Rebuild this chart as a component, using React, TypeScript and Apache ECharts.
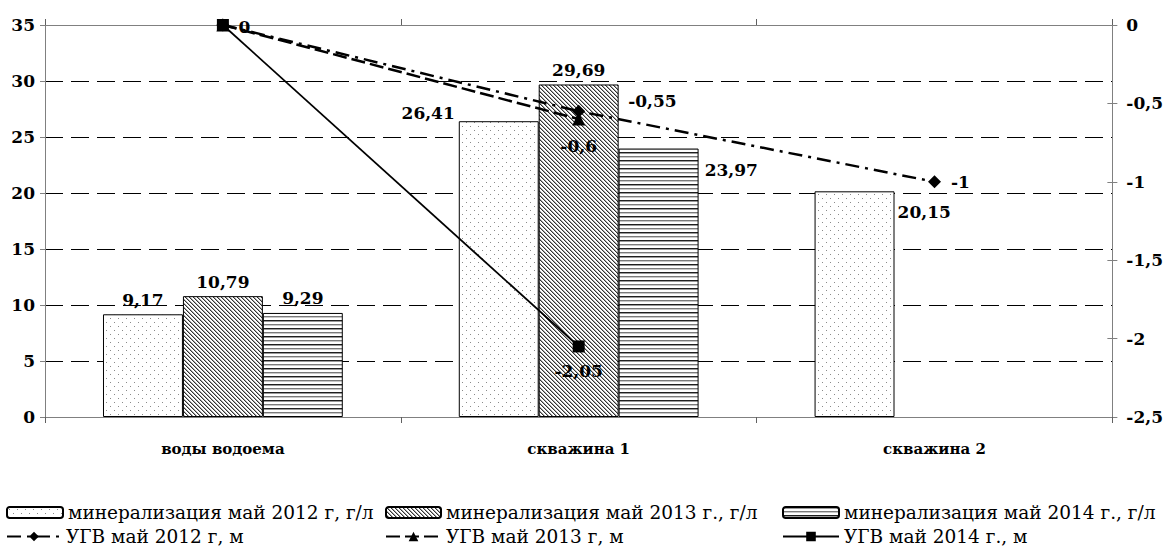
import React, { useEffect, useRef } from "react";
import * as echarts from "echarts";

const categories = ["воды водоема", "скважина 1", "скважина 2"];
const min2012 = [9.17, 26.41, 20.15];
const min2013 = [10.79, 29.69, null];
const min2014 = [9.29, 23.97, null];
const ugv2012 = [0, -0.55, -1];
const ugv2013 = [0, -0.6, null];
const ugv2014 = [0, -2.05, null];
const seriesNames = [
  "минерализация май 2012 г, г/л",
  "минерализация май 2013 г., г/л",
  "минерализация май 2014 г., г/л",
  "УГВ май 2012 г, м",
  "УГВ май 2013 г, м",
  "УГВ май 2014 г., м",
];

const FONT = "'DejaVu Serif', 'Liberation Serif', serif";

function makeTile(w: number, h: number, fn: (x: number, y: number) => string | null) {
  const c = document.createElement("canvas");
  c.width = w;
  c.height = h;
  const ctx = c.getContext("2d")!;
  ctx.fillStyle = "#ffffff";
  ctx.fillRect(0, 0, w, h);
  for (let y = 0; y < h; y++) {
    for (let x = 0; x < w; x++) {
      const col = fn(x, y);
      if (col) {
        ctx.fillStyle = col;
        ctx.fillRect(x, y, 1, 1);
      }
    }
  }
  return c;
}

const fmt = (v: number) => String(v).replace(".", ",");

export default function App() {
  const ref = useRef<HTMLDivElement>(null);
  useEffect(() => {
    if (!ref.current) return;
    const chart = echarts.init(ref.current, null, { renderer: "svg" });

    const dots = makeTile(8, 8, (x, y) =>
      (x === 2 && y === 2) || (x === 6 && y === 6) ? "#8a8a8a" : null
    );
    const diag = makeTile(4, 4, (x, y) => {
      const m = (((x - y) % 4) + 4) % 4;
      if (m === 0) return "#333333";
      if (m === 1) return "#a8a8a8";
      return null;
    });
    const horiz = makeTile(4, 8, (x, y) => {
      if (y === 0) return "#1e1e1e";
      if (y === 1) return "#9a9a9a";
      if (y === 4) return "#7a7a7a";
      if (y === 5) return "#c8c8c8";
      return null;
    });

    const pat = (img: HTMLCanvasElement) => ({ image: img, repeat: "repeat" });

    const barLabelBase = {
      show: true,
      fontFamily: FONT,
      fontWeight: "bold" as const,
      fontSize: 17,
      color: "#000",
      formatter: (p: any) => fmt(p.value),
    };

    const barItem = { borderColor: "#000", borderWidth: 1 };

    const bar2012Labels = [
      { position: "top", distance: 6 },
      { position: [-4, -8], align: "right", verticalAlign: "middle" },
      { position: [83, 21], align: "left", verticalAlign: "middle" },
    ];
    const bar2013Labels = [
      { position: "top", distance: 6 },
      { position: "top", distance: 6 },
      { position: "top", distance: 6 },
    ];
    const bar2014Labels = [
      { position: "top", distance: 6 },
      { position: [86, 21], align: "left", verticalAlign: "middle" },
      { position: "top", distance: 6 },
    ];

    const barData = (vals: (number | null)[], labels: any[]) =>
      vals.map((v, i) => ({ value: v, label: labels[i] }));

    const lineLabelBase = {
      show: true,
      fontFamily: FONT,
      fontWeight: "bold" as const,
      fontSize: 17,
      color: "#000",
      formatter: (p: any) => fmt(p.value),
    };

    const l2012Labels = [
      { position: "right", distance: 5, offset: [4, 2] },
      { position: "right", distance: 5, offset: [38, -10] },
      { position: "right", distance: 5, offset: [5, 0] },
    ];
    const l2013Labels = [
      { show: false },
      { position: "bottom", distance: 12 },
      { show: false },
    ];
    const l2014Labels = [
      { show: false },
      { position: "bottom", distance: 10 },
      { show: false },
    ];
    const lineData = (vals: (number | null)[], labels: any[]) =>
      vals.map((v, i) => ({ value: v, label: labels[i] }));

    const legendText = { fontFamily: FONT, fontSize: 18.5, color: "#000" };
    const legendPos = [
      { left: 6, top: 503, w: 56, h: 11 },
      { left: 385, top: 503, w: 55, h: 11 },
      { left: 782, top: 503, w: 56, h: 11 },
      { left: 6, top: 527, w: 54, h: 12 },
      { left: 385, top: 527, w: 55, h: 12 },
      { left: 782, top: 527, w: 56, h: 12 },
    ];

    const grayAxis = { lineStyle: { color: "#808080", width: 1 } };

    chart.setOption({
      animation: false,
      backgroundColor: "#ffffff",
      textStyle: { fontFamily: FONT },
      grid: { left: 45, right: 52, top: 25, bottom: 133, containLabel: false },
      legend: legendPos.map((p, i) => ({
        data: [seriesNames[i]],
        left: p.left,
        top: p.top,
        itemWidth: p.w,
        itemHeight: p.h,
        itemGap: 0,
        padding: 0,
        textStyle: legendText,
        selectedMode: false,
      })),
      xAxis: [
        {
          type: "category",
          data: categories,
          position: "bottom",
          axisLine: grayAxis,
          axisTick: { show: true, length: 6, alignWithLabel: false, lineStyle: { color: "#606060" } },
          axisLabel: {
            fontFamily: FONT,
            fontWeight: "bold",
            fontSize: 15,
            color: "#000",
            margin: 24,
          },
        },
        {
          type: "category",
          data: categories,
          position: "top",
          axisLine: grayAxis,
          axisTick: { show: false },
          axisLabel: { show: false },
        },
        {
          type: "category",
          data: categories,
          position: "bottom",
          axisLine: { show: false },
          axisTick: { show: true, inside: true, length: 6, lineStyle: { color: "#606060" } },
          axisLabel: { show: false },
        },
      ],
      yAxis: [
        {
          type: "value",
          min: 0,
          max: 35,
          interval: 5,
          position: "left",
          axisLine: { show: true, ...grayAxis },
          axisTick: { show: true, length: 5, lineStyle: { color: "#808080" } },
          axisLabel: {
            fontFamily: FONT,
            fontWeight: "bold",
            fontSize: 17,
            color: "#000",
            margin: 10,
          },
          splitLine: {
            show: true,
            lineStyle: { color: "#000", type: [18, 8], width: 1.2 },
          },
        },
        {
          type: "value",
          min: -2.5,
          max: 0,
          interval: 0.5,
          position: "right",
          axisLine: { show: true, ...grayAxis },
          axisTick: { show: true, length: 5, lineStyle: { color: "#808080" } },
          axisLabel: {
            fontFamily: FONT,
            fontWeight: "bold",
            fontSize: 17,
            color: "#000",
            margin: 14,
            formatter: (v: number) => fmt(v),
          },
          splitLine: { show: false },
        },
        {
          type: "value",
          min: -2.5,
          max: 0,
          interval: 0.5,
          position: "right",
          axisLine: { show: false },
          axisTick: { show: true, inside: true, length: 5, lineStyle: { color: "#808080" } },
          axisLabel: { show: false },
          splitLine: { show: false },
        },
      ],
      series: [
        {
          name: seriesNames[0],
          type: "bar",
          barGap: "0%",
          barCategoryGap: "32.6%",
          itemStyle: { color: pat(dots), ...barItem },
          label: barLabelBase,
          data: barData(min2012, bar2012Labels),
          z: 2,
        },
        {
          name: seriesNames[1],
          type: "bar",
          barGap: "0%",
          barCategoryGap: "32.6%",
          itemStyle: { color: pat(diag), ...barItem },
          label: barLabelBase,
          data: barData(min2013, bar2013Labels),
          z: 2,
        },
        {
          name: seriesNames[2],
          type: "bar",
          barGap: "0%",
          barCategoryGap: "32.6%",
          itemStyle: { color: pat(horiz), ...barItem },
          label: barLabelBase,
          data: barData(min2014, bar2014Labels),
          z: 2,
        },
        {
          name: seriesNames[3],
          type: "line",
          yAxisIndex: 1,
          symbol: "diamond",
          symbolSize: 13,
          itemStyle: { color: "#000" },
          lineStyle: { color: "#000", width: 2.5, type: [14, 6, 3, 6] },
          label: lineLabelBase,
          data: lineData(ugv2012, l2012Labels),
          z: 5,
        },
        {
          name: seriesNames[4],
          type: "line",
          yAxisIndex: 1,
          symbol: "triangle",
          symbolSize: 13,
          itemStyle: { color: "#000" },
          lineStyle: { color: "#000", width: 2.5, type: [14, 5] },
          label: lineLabelBase,
          data: lineData(ugv2013, l2013Labels),
          z: 5,
        },
        {
          name: seriesNames[5],
          type: "line",
          yAxisIndex: 1,
          symbol: "rect",
          symbolSize: 12,
          itemStyle: { color: "#000" },
          lineStyle: { color: "#000", width: 1.8, type: "solid" },
          label: lineLabelBase,
          data: lineData(ugv2014, l2014Labels),
          z: 6,
        },
      ],
    });
    return () => chart.dispose();
  }, []);
  return (
    <div
      ref={ref}
      style={{ position: "fixed", left: 0, top: 0, width: 1166, height: 550, background: "#fff" }}
    />
  );
}
